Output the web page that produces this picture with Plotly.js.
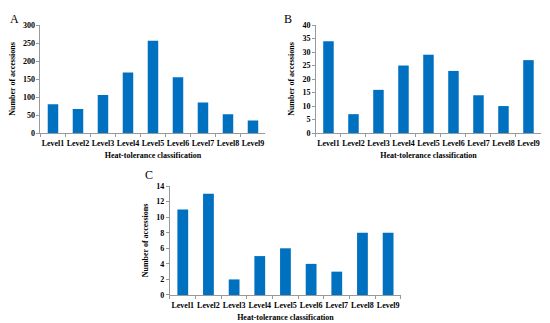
<!DOCTYPE html>
<html><head><meta charset="utf-8">
<script src="https://cdn.plot.ly/plotly-3.0.1.min.js"></script>
<style>html,body{margin:0;padding:0;background:#fff}#c{width:550px;height:323px}</style>
</head><body><div id="c"></div>
<script>
const levels = ["Level1","Level2","Level3","Level4","Level5","Level6","Level7","Level8","Level9"];
const valuesA = [80, 67, 106, 168, 256, 155, 85, 52, 35];
const valuesB = [34, 7, 16, 25, 29, 23, 14, 10, 27];
const valuesC = [11, 13, 2, 5, 6, 4, 3, 8, 8];
const ticksA = [0, 50, 100, 150, 200, 250, 300];
const ticksB = [0, 5, 10, 15, 20, 25, 30, 35, 40];
const ticksC = [0, 2, 4, 6, 8, 10, 12, 14];
const xTitle = "Heat-tolerance classification";
const yTitle = "Number of accessions";

const barColor = "#0070C0";
const tfnt = {family: "Liberation Serif, Times New Roman, serif", size: 8, color: "#000", weight: "bold"};

function bar(vals, xa, ya){
  return {type:"bar", x: levels, y: vals, xaxis: xa, yaxis: ya, marker:{color: barColor}, width: 0.42, hoverinfo:"none"};
}
function xax(dom, anchor){
  return {domain: dom, anchor: anchor, showline:true, linecolor:"#999", linewidth:1, ticks:"outside", ticklen:3, tickcolor:"#999",
    tickson:"boundaries", tickangle:0, ticklabelstandoff:2, tickfont: tfnt, showgrid:false, zeroline:false, fixedrange:true,
    title:{text: xTitle, font: tfnt, standoff: 5}};
}
function yax(dom, anchor, ticks){
  return {domain: dom, anchor: anchor, range:[0, ticks[ticks.length-1]], tickvals: ticks, showline:true, linecolor:"#999", linewidth:1,
    ticks:"outside", ticklen:3, tickcolor:"#999", tickfont: tfnt, showgrid:false, zeroline:false, fixedrange:true,
    title:{text: yTitle, font: tfnt, standoff: 6}};
}
const data = [bar(valuesA,"x","y"), bar(valuesB,"x2","y2"), bar(valuesC,"x3","y3")];
const layout = {
  width:550, height:323, margin:{l:0,r:0,t:0,b:0}, paper_bgcolor:"#fff", plot_bgcolor:"#fff", showlegend:false,
  xaxis: xax([0.0736,0.4827],"y"), yaxis: yax([0.588,0.9226],"x",ticksA),
  xaxis2: xax([0.5745,0.9836],"y2"), yaxis2: yax([0.588,0.9226],"x2",ticksB),
  xaxis3: xax([0.309,0.729],"y3"), yaxis3: yax([0.0867,0.424],"x3",ticksC),
  annotations:[
    {text:"A", x:8/550, y:1-10/323, xref:"paper", yref:"paper", showarrow:false, font:{family:"Liberation Serif, serif", size:12, color:"#000"}},
    {text:"B", x:288/550, y:1-10/323, xref:"paper", yref:"paper", showarrow:false, font:{family:"Liberation Serif, serif", size:12, color:"#000"}},
    {text:"C", x:143/550, y:1-175/323, xref:"paper", yref:"paper", showarrow:false, font:{family:"Liberation Serif, serif", size:12, color:"#000"}}
  ]
};
Plotly.newPlot("c", data, layout, {staticPlot:true, displayModeBar:false});
</script></body></html>
